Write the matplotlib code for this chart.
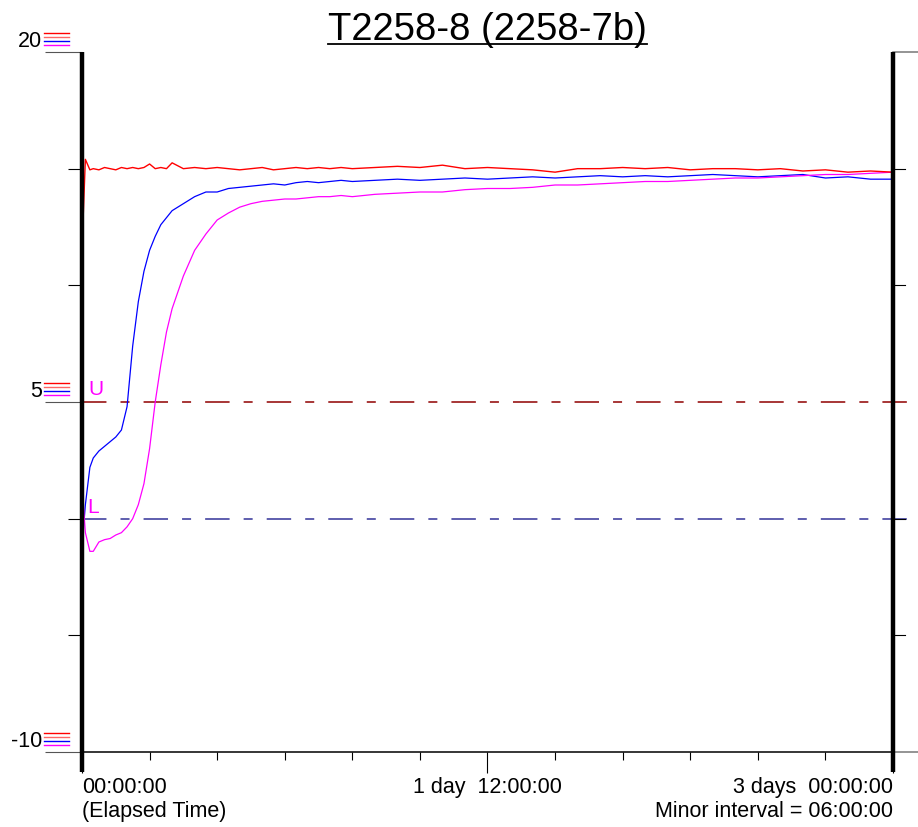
import matplotlib
matplotlib.use("Agg")
import matplotlib.pyplot as plt
import matplotlib.transforms as mtransforms
from matplotlib.lines import Line2D

plt.rcParams['font.family'] = ['Liberation Sans', 'DejaVu Sans']

# elapsed time in hours
hours = [0, 0.3, 0.7, 1, 1.5, 2, 2.5, 3, 3.5, 4, 4.5, 5, 5.5, 6, 6.5, 7, 7.5, 8,
         9, 10, 11, 12, 13, 14, 15, 16, 17, 18, 19, 20, 21, 22, 23, 24,
         26, 28, 30, 32, 34, 36, 38, 40, 42, 44, 46, 48, 50, 52, 54, 56, 58,
         60, 62, 64, 66, 68, 70, 72]

red = [11.6, 15.4, 14.95, 15.0, 14.95, 15.05, 15.0, 14.95, 15.05, 15.0, 15.05, 15.0,
       15.05, 15.2, 15.0, 15.05, 15.0, 15.25,
       15.0, 15.05, 15.0, 15.05, 15.0, 14.95, 15.0, 15.05, 14.95, 15.0, 15.05, 15.0,
       15.05, 15.0, 15.05, 15.0,
       15.05, 15.1, 15.05, 15.15, 15.0, 15.05, 15.0, 14.95, 14.85, 15.0, 15.0, 15.05,
       15.0, 15.05, 14.95, 15.0, 15.0, 14.95, 15.0, 14.9, 14.95, 14.85, 14.9, 14.85]

blue = [-1.2, 0.6, 2.2, 2.6, 2.9, 3.1, 3.3, 3.5, 3.8, 4.8, 7.4, 9.3, 10.6, 11.5,
        12.1, 12.6, 12.9, 13.2,
        13.5, 13.8, 14.0, 14.0, 14.15, 14.2, 14.25, 14.3, 14.35, 14.3, 14.4, 14.45,
        14.4, 14.45, 14.5, 14.45,
        14.5, 14.55, 14.5, 14.55, 14.6, 14.55, 14.6, 14.65, 14.6, 14.65, 14.7, 14.65,
        14.7, 14.65, 14.7, 14.75, 14.7, 14.65, 14.7, 14.75, 14.6, 14.65, 14.55, 14.55]

magenta = [1.4, -0.6, -1.4, -1.4, -1.0, -0.9, -0.85, -0.7, -0.6, -0.35, 0.0, 0.6,
           1.5, 3.0, 5.0, 6.6, 8.0, 9.0,
           10.4, 11.5, 12.2, 12.8, 13.1, 13.35, 13.5, 13.6, 13.65, 13.7, 13.7, 13.75,
           13.8, 13.8, 13.85, 13.8,
           13.9, 13.95, 14.0, 14.0, 14.1, 14.15, 14.15, 14.2, 14.3, 14.3, 14.35, 14.4,
           14.45, 14.45, 14.5, 14.55, 14.6, 14.6, 14.65, 14.7, 14.75, 14.75, 14.8, 14.85]

upper_limit = 5
lower_limit = 0
y_labels = [20, 5, -10]
y_minor = [15, 10, 0, -5]
x_major = [0, 36, 72]
x_labels = ["00:00:00\n(Elapsed Time)", "1 day  12:00:00",
            "3 days  00:00:00\nMinor interval = 06:00:00"]
stub_colors = ['#ff0000', '#ff6666', '#0000ff', '#ff00ff']

fig = plt.figure(figsize=(9.18, 8.27), dpi=100)
ax = fig.add_axes([82 / 918, 1 - 752 / 827, 811 / 918, 700 / 827])
ax.set_xlim(0, 72)
ax.set_ylim(-10, 20)

ax.plot(hours, blue, color='#0000ff', lw=0.9, zorder=3)
ax.plot(hours, magenta, color='#ff00ff', lw=0.9, zorder=3)
ax.plot(hours, red, color='#ff0000', lw=1.0, zorder=4)

xblend = mtransforms.blended_transform_factory(ax.transAxes, ax.transData)
yblend = mtransforms.blended_transform_factory(ax.transData, ax.transAxes)

# limit lines (dash-dot, long dash ~24px, short ~9px)
dash = (0, (16, 9.2, 5.9, 9.2))
ax.plot([0, 1.031], [upper_limit, upper_limit], transform=xblend, color='#900000',
        lw=1.1, linestyle=dash, clip_on=False)
ax.plot([0, 1.031], [lower_limit, lower_limit], transform=xblend, color='#333399',
        lw=1.1, linestyle=dash, clip_on=False)
ax.text(0.55, 5.55, "U", color='#ff00ff', fontsize=15, va='center', ha='left')
ax.text(0.45, 0.48, "L", color='#ff00ff', fontsize=15, va='center', ha='left')

# spines
for s in ['top', 'left', 'right']:
    ax.spines[s].set_visible(False)
ax.spines['bottom'].set_linewidth(1.1)
for xv in [0, 72]:
    ax.plot([xv, xv], [-0.029, 1.0], transform=yblend, color='black', lw=3.2,
            clip_on=False, solid_capstyle='butt', zorder=5)

# x ticks
ax.set_xticks(x_major, labels=x_labels)
ax.set_xticks(range(0, 73, 6), minor=True)
ax.tick_params(axis='x', which='major', length=15, width=0.8, pad=3, labelsize=15.5)
ax.tick_params(axis='x', which='minor', length=6, width=0.8)
for lab, ha in zip(ax.get_xticklabels(), ['left', 'center', 'right']):
    lab.set_horizontalalignment(ha)
    lab.set_multialignment(ha)

# y ticks (left)
ax.set_yticks(y_labels, labels=[])
ax.set_yticks(y_minor, minor=True)
ax.tick_params(axis='y', which='major', length=27, width=0.8, color='#555555')
ax.tick_params(axis='y', which='minor', length=10, width=0.8)
for v in y_labels:
    ax.text(-0.049, v + 0.45, str(v), transform=xblend, ha='right', va='center',
            fontsize=15.5)
    for k, c in enumerate(stub_colors):
        off = 0.81 - 0.17 * k
        ax.plot([-0.047, -0.016], [v + off, v + off], transform=xblend, color=c,
                lw=1.0, clip_on=False)

# right side ticks
for v in y_minor:
    ax.plot([1.0, 1.015], [v, v], transform=xblend, color='black', lw=0.8, clip_on=False)
for v in [20, -10]:
    ax.plot([1.0, 1.031], [v, v], transform=xblend, color='#777777', lw=1.1, clip_on=False)

# title with underline
title = ax.set_title("T2258-8 (2258-7b)", fontsize=27.5, pad=9)
fig.canvas.draw()
bb = title.get_window_extent(fig.canvas.get_renderer())
base_y = ax.get_window_extent().y1 + 9 * 100 / 72
fig.add_artist(Line2D([bb.x0 / fig.bbox.width, bb.x1 / fig.bbox.width],
                      [(base_y - 4) / fig.bbox.height] * 2, color='black', lw=1.3))

fig.savefig("out.png", dpi=100)
